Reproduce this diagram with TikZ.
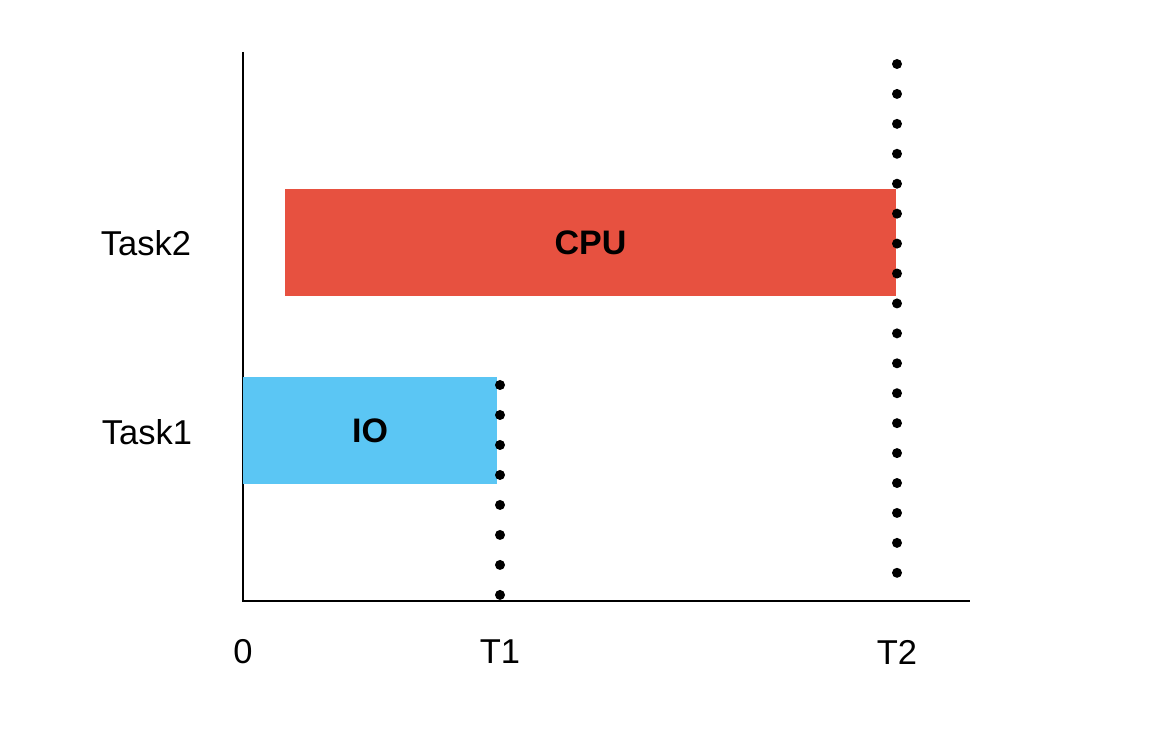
\documentclass[tikz,border=0pt]{standalone}
\usepackage{fontspec}
\setmainfont{Liberation Sans}
\usepackage{xcolor}
\usepackage{tikz}
\definecolor{cpured}{RGB}{231,81,64}
\definecolor{ioblue}{RGB}{91,198,244}
\tikzset{
	bar/.style={draw=none, minimum height=107pt, inner sep=0pt, font=\fontsize{34}{38}\selectfont\bfseries},
	lbl/.style={inner sep=0pt, font=\fontsize{34.5}{38}\selectfont},
	axis/.style={line width=2.2pt},
	dotline/.style={line width=10pt, line cap=round, dash pattern=on 0pt off #1}
}
\begin{document}
\begin{tikzpicture}[x=1pt,y=1pt]
		\useasboundingbox (0,0) rectangle (1160,734);
		% Axes
		\coordinate (origin) at (243,133);
		\coordinate (ytop) at (243,682);
		\coordinate (xend) at (970,133);
		\draw[axis] (ytop) -- (origin) -- (xend);
		% Bars
		\node[bar, fill=cpured, minimum width=611pt] (cpu) at (590.5,491.5) {CPU};
		\node[bar, fill=ioblue, minimum width=254pt] (io) at (370,303.5) {IO};
		% Task labels
		\node[lbl] (task2) at (146,491) {Task2};
		\node[lbl] (task1) at (147,302) {Task1};
		% Time labels
		\node[lbl] (t0) at (243,82) {0};
		\node[lbl] (t1) at (500,82) {T1};
		\node[lbl] (t2) at (897,82) {T2};
		% Dotted markers
		\coordinate (t1top) at (500,349);
		\coordinate (t1bot) at (500,139);
		\coordinate (t2top) at (897,670);
		\coordinate (t2bot) at (897,161);
		\draw[dotline=29.99pt] (t1top) -- (t1bot);
		\draw[dotline=29.93pt] (t2top) -- (t2bot);
\end{tikzpicture}
\end{document}
